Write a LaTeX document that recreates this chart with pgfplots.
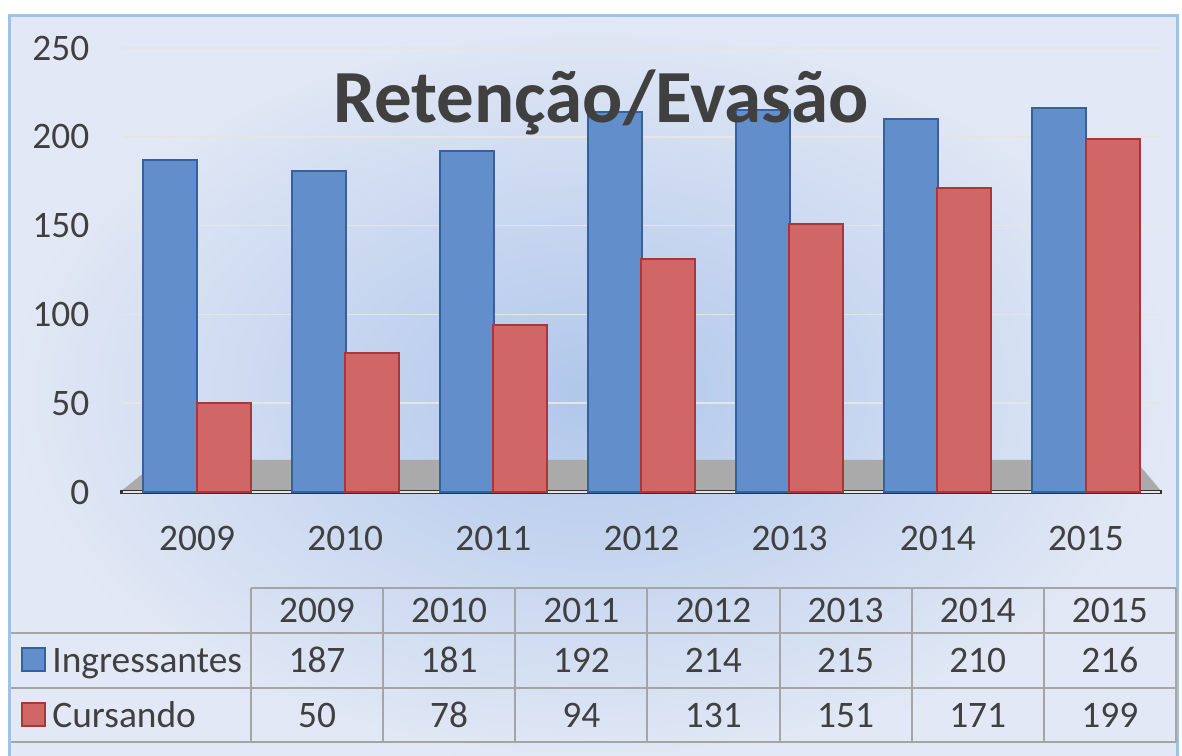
\documentclass[border=0pt]{standalone}
\usepackage{fontspec}
\setmainfont{Carlito}
\usepackage{pgfplots}
\usepackage{pgfplotstable}
\pgfplotsset{compat=1.18}
\definecolor{txt}{RGB}{64,64,64}
\definecolor{bluef}{RGB}{98,142,204}
\definecolor{blued}{RGB}{56,96,156}
\definecolor{redf}{RGB}{208,102,102}
\definecolor{redd}{RGB}{168,56,56}
\definecolor{framec}{RGB}{157,195,230}
\definecolor{gridc}{RGB}{165,165,165}
\definecolor{bgin}{RGB}{176,199,235}
\definecolor{bgout}{RGB}{226,232,245}
\definecolor{floorc}{RGB}{170,170,170}

\pgfplotstableread{
x year ing cur
0 2009 187 50
1 2010 181 78
2 2011 192 94
3 2012 214 131
4 2013 215 151
5 2014 210 171
6 2015 216 199
}\datatable

\newcommand\tfont{\fontsize{18.7}{22}\selectfont}

\begin{document}
\begin{tikzpicture}
\begin{scope}[x=0.5pt,y=-0.5pt,shift={(0pt,377.5pt)}]
  \fill[white] (0,0) rectangle (1182,755);
  \shade[inner color=bgin, outer color=bgout] (9,16) rectangle (1177,770);
  \draw[framec, line width=1.5pt] (9,16) rectangle (1177,770);
  % floor
  \fill[floorc] (120,492) -- (160,460) -- (1135,460) -- (1162,492) -- cycle;
  \draw[line width=2pt, black!80] (120,492) -- (1162,492);
\end{scope}

\begin{axis}[
  at={(61.5pt,131.5pt)}, anchor=south west,
  scale only axis, width=518.5pt, height=222pt,
  xmin=-0.5, xmax=6.5, ymin=0, ymax=250,
  ytick={0,50,...,250},
  xtick={0,...,6},
  xticklabels from table={\datatable}{year},
  axis line style={draw=none},
  major tick length=0pt,
  ymajorgrids,
  grid style={white!80!gray, line width=0.8pt},
  tick label style={font=\tfont, text=txt},
  /pgf/number format/assume math mode=true,
  /pgf/number format/set thousands separator={},
  yticklabel style={xshift=-13.3pt},
  xticklabel style={anchor=base, yshift=-29pt},
  ybar, bar width=0.365,
  clip=false,
]
\addplot[fill=bluef, draw=blued, line width=1pt, bar shift=-0.18] table[x=x,y=ing]{\datatable};
\addplot[fill=redf, draw=redd, line width=1pt, bar shift=0.18] table[x=x,y=cur]{\datatable};
\end{axis}

\begin{scope}[x=0.5pt,y=-0.5pt,shift={(0pt,377.5pt)}]
  \node[anchor=base, inner sep=0, font=\bfseries\fontsize{37.5}{45}\selectfont, text=txt] at (601,123) {Retenção/Evasão};
  % data table
  \draw[gridc, line width=1pt] (251,588) -- (1176,588);
  \foreach \y in {633,688,742} \draw[gridc, line width=1pt] (11,\y) -- (1176,\y);
  \foreach \x in {251,383,515,647,780,912,1044,1176} \draw[gridc, line width=1pt] (\x,588) -- (\x,742);
  \foreach \i in {0,...,6} {
    \pgfmathsetmacro\cx{317+132.14*\i}
    \pgfplotstablegetelem{\i}{year}\of\datatable
    \node[anchor=base, inner sep=0, font=\tfont, text=txt] at (\cx,622) {\pgfplotsretval};
    \pgfplotstablegetelem{\i}{ing}\of\datatable
    \node[anchor=base, inner sep=0, font=\tfont, text=txt] at (\cx,672) {\pgfplotsretval};
    \pgfplotstablegetelem{\i}{cur}\of\datatable
    \node[anchor=base, inner sep=0, font=\tfont, text=txt] at (\cx,727) {\pgfplotsretval};
  }
  \filldraw[fill=bluef, draw=blued, line width=0.8pt] (22,648) rectangle (45,671);
  \filldraw[fill=redf, draw=redd, line width=0.8pt] (22,703) rectangle (45,726);
  \node[anchor=base west, inner sep=0, font=\tfont, text=txt] at (52,672) {Ingressantes};
  \node[anchor=base west, inner sep=0, font=\tfont, text=txt] at (52,727) {Cursando};
  \pgfresetboundingbox
  \path[use as bounding box] (0,0) rectangle (1182,755);
\end{scope}
\end{tikzpicture}
\end{document}
